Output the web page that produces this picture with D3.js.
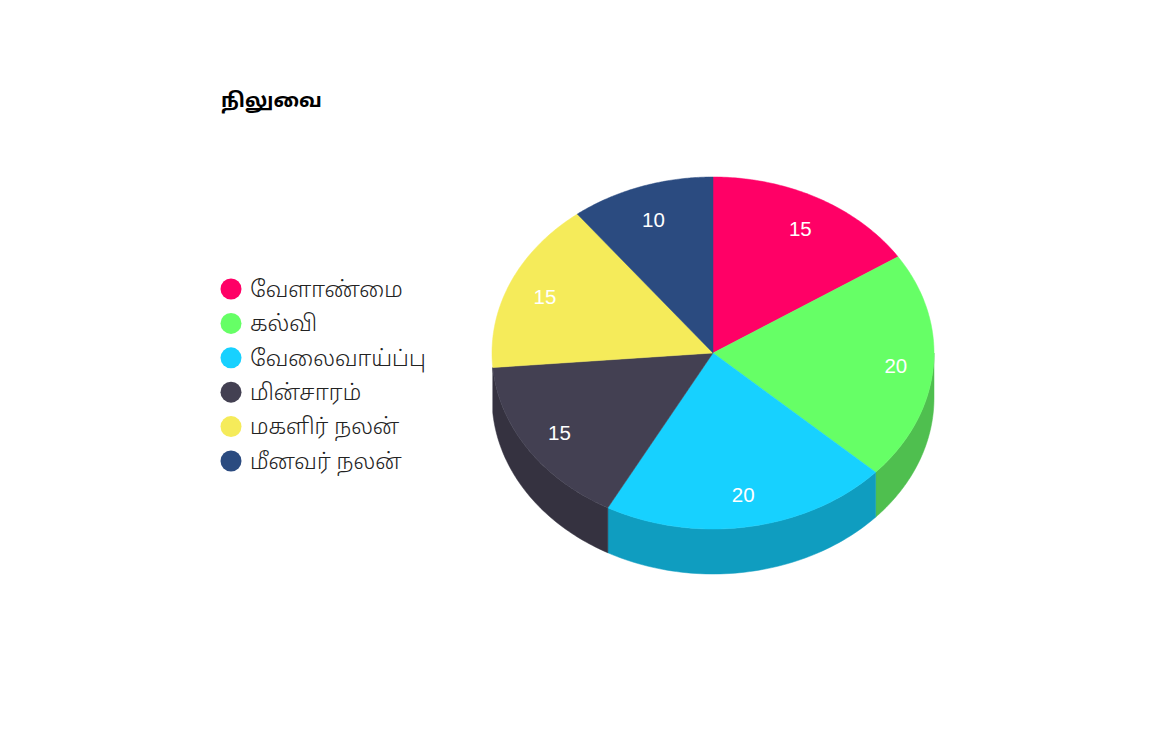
<!DOCTYPE html>
<html><head><meta charset="utf-8">
<script src="https://cdn.jsdelivr.net/npm/d3@7"></script>
<style>body{margin:0;background:#fff}svg{display:block}</style>
</head><body>
<script>
const title = "நிலுவை";
const categories = ["வேளாண்மை","கல்வி","வேலைவாய்ப்பு","மின்சாரம்","மகளிர் நலன்","மீனவர் நலன்"];
const values = [15, 20, 20, 15, 15, 10];
const colors = ["#FF0066","#66FF66","#17D1FF","#434052","#F5EB5A","#2B4B80"];
const sideColors = ["#CC0052","#4FBF4F","#0F9DC0","#353240","#C4BC48","#223C66"];

const W = 1152, H = 750;
const cx = 713, cy = 353, rx = 221, ry = 176, depth = 45;
const tamilFont = "'Noto Sans Tamil', 'Liberation Sans', Arial, sans-serif";
const svg = d3.select("body").append("svg").attr("width", W).attr("height", H);

svg.append("text").attr("x", 221).attr("y", 107).text(title)
  .attr("font-family", tamilFont).attr("font-size", 20).attr("font-weight", "bold").attr("fill", "#000");

const pie = d3.pie().sort(null).value(d => d)(values);
const px = (a, k=1) => cx + rx * k * Math.sin(a);
const py = (a, k=1, dy=0) => cy - ry * k * Math.cos(a) + dy;
const line = d3.line();
const front = p => { const m = (p.startAngle + p.endAngle) / 2; return m > Math.PI/2 && m < 3*Math.PI/2; };

const g = svg.append("g");
pie.forEach((p, i) => {
  if (!front(p)) return;
  const a0 = Math.max(p.startAngle, Math.PI/2), a1 = Math.min(p.endAngle, 3*Math.PI/2);
  if (a1 <= a0) return;
  const n = 60, pts = [];
  for (let j = 0; j <= n; j++) { const a = a0 + (a1-a0)*j/n; pts.push([px(a), py(a)]); }
  for (let j = n; j >= 0; j--) { const a = a0 + (a1-a0)*j/n; pts.push([px(a), py(a,1,depth)]); }
  g.append("path").attr("d", line(pts) + "Z").attr("fill", sideColors[i]).attr("stroke", sideColors[i]).attr("stroke-width", 0.5);
});

pie.forEach((p, i) => {
  const n = 80, pts = [[cx, cy]];
  for (let j = 0; j <= n; j++) { const a = p.startAngle + (p.endAngle-p.startAngle)*j/n; pts.push([px(a), py(a)]); }
  g.append("path").attr("d", line(pts) + "Z").attr("fill", colors[i]).attr("stroke", colors[i]).attr("stroke-width", 0.5);
});

pie.forEach((p, i) => {
  const a = (p.startAngle + p.endAngle)/2;
  g.append("text").attr("x", px(a, 0.83)).attr("y", py(a, 0.81) + 1.5).attr("dy", "0.35em")
    .attr("text-anchor", "middle").attr("fill", "#fff")
    .attr("font-family", "'Liberation Sans', Arial, sans-serif").attr("font-size", 20.5)
    .text(values[i]);
});

const ly = d3.scalePoint().domain(categories).range([289, 461]);
const lg = svg.append("g");
categories.forEach((c, i) => {
  lg.append("circle").attr("cx", 231).attr("cy", ly(c)).attr("r", 10.5).attr("fill", colors[i]);
  lg.append("text").attr("x", 250).attr("y", ly(c)).attr("dy", "0.35em")
    .attr("font-family", tamilFont).attr("font-size", 22.3).attr("font-weight", 300).attr("fill", "#222").text(c);
});
</script>
</body></html>
